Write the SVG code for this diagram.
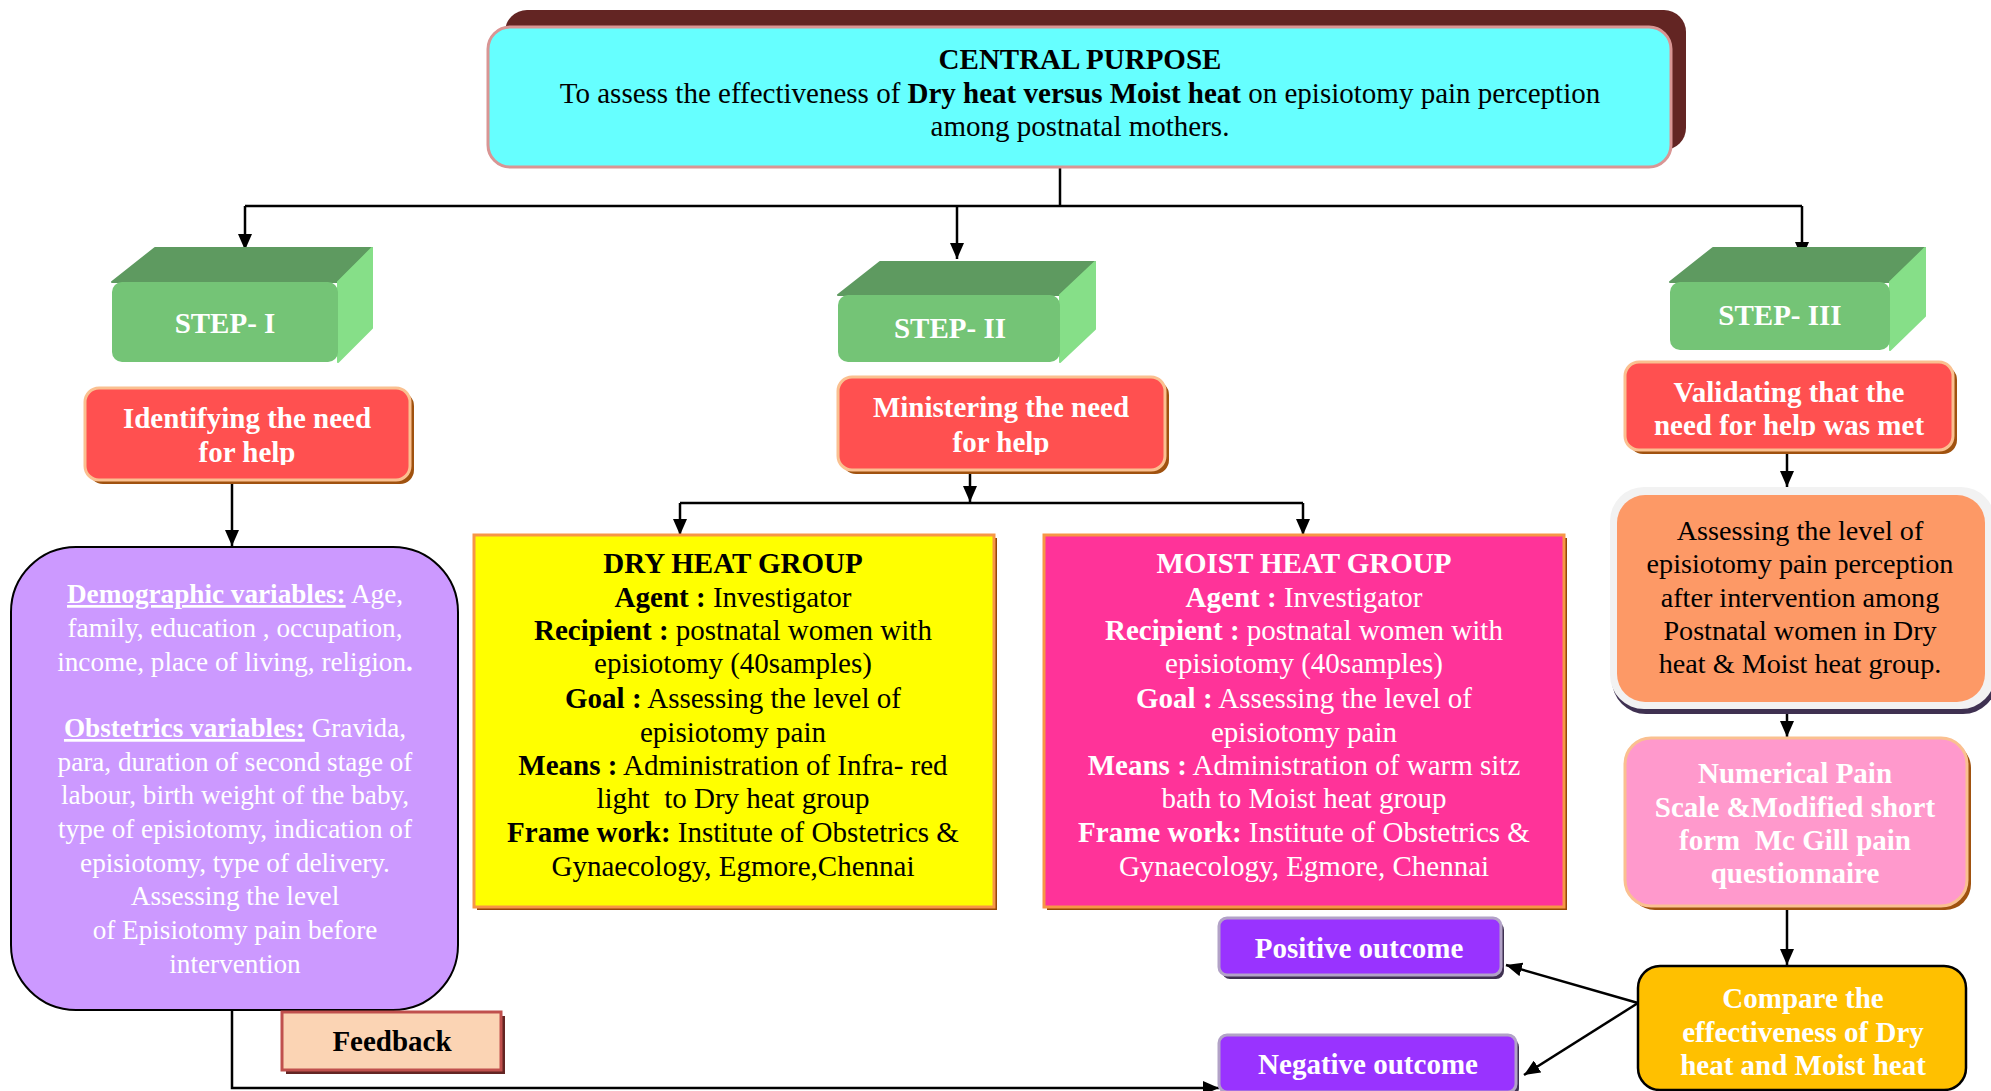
<svg xmlns="http://www.w3.org/2000/svg" width="1991" height="1091" viewBox="0 0 1991 1091">
<style>
text{font-family:"Liberation Serif","Times New Roman",serif;font-size:29px;text-anchor:middle}
text.pv{font-size:27.2px}
text.or{font-size:28.2px}
.b{font-weight:bold}
.w{fill:#fff}
.k{fill:#000}
.conn{stroke:#000;stroke-width:2.5;fill:none}
.sf{fill:#74C476}.st{fill:#5E9A60;stroke:#5E9A60;stroke-width:2;stroke-linejoin:round}.sr{fill:#86DF88;stroke:#86DF88;stroke-width:2;stroke-linejoin:round}
.red{fill:#FF5050;stroke:#FAC090;stroke-width:3}
.redsh{fill:#A0520F}
</style>
<defs>
<marker id="ah" viewBox="0 0 16 14" refX="16" refY="7" markerWidth="16" markerHeight="14" markerUnits="userSpaceOnUse" orient="auto">
<path d="M0,0 L16,7 L0,14 z" fill="#000"/>
</marker>
<clipPath id="c1"><rect x="85" y="388" width="325" height="77"/></clipPath>
<clipPath id="c2"><rect x="838" y="377" width="327" height="78"/></clipPath>
<clipPath id="c3"><rect x="1625" y="362" width="328" height="74"/></clipPath>
</defs>

<g id="connectors">
<path class="conn" d="M1060,167 V206"/>
<path class="conn" d="M245,206 H1802"/>
<path class="conn" d="M245,206 V250" marker-end="url(#ah)"/>
<path class="conn" d="M957,206 V259" marker-end="url(#ah)"/>
<path class="conn" d="M1802,206 V258" marker-end="url(#ah)"/>
<path class="conn" d="M232,481 V546" marker-end="url(#ah)"/>
<path class="conn" d="M970,470 V502" marker-end="url(#ah)"/>
<path class="conn" d="M680,503 H1303"/>
<path class="conn" d="M680,503 V535" marker-end="url(#ah)"/>
<path class="conn" d="M1303,503 V535" marker-end="url(#ah)"/>
<path class="conn" d="M1787,452 V487" marker-end="url(#ah)"/>
<path class="conn" d="M1787,705 V737" marker-end="url(#ah)"/>
<path class="conn" d="M1787,908 V965" marker-end="url(#ah)"/>
<path class="conn" d="M1638,1003 L1506,965" marker-end="url(#ah)"/>
<path class="conn" d="M1638,1003 L1524,1075" marker-end="url(#ah)"/>
<path class="conn" d="M232,1010 V1088 H1219" marker-end="url(#ah)"/>
</g>

<g id="central-purpose">
<rect x="505" y="10" width="1181" height="140" rx="22" fill="#632523"/>
<rect x="488" y="27" width="1183" height="140" rx="22" fill="#66FFFF" stroke="#D99594" stroke-width="3"/>
<text x="1080" y="69" class="b k">CENTRAL PURPOSE</text>
<text x="1080" y="103" class="k">To assess the effectiveness of <tspan class="b">Dry heat versus Moist heat</tspan> on episiotomy pain perception</text>
<text x="1080" y="136" class="k">among postnatal mothers.</text>
</g>

<g id="step1">
<polygon class="st" points="112,282 155,248 372,248 338,282"/>
<polygon class="sr" points="338,282 372,248 372,328 338,362"/>
<rect class="sf" x="112" y="282" width="226" height="80" rx="10"/>
<text x="225" y="333" class="b w">STEP- I</text>
</g>
<g id="step2">
<polygon class="st" points="838,295 880,262 1095,262 1060,295"/>
<polygon class="sr" points="1060,295 1095,262 1095,329 1060,362"/>
<rect class="sf" x="838" y="295" width="222" height="67" rx="10"/>
<text x="950" y="338" class="b w">STEP- II</text>
</g>
<g id="step3">
<polygon class="st" points="1670,282 1713,248 1925,248 1890,282"/>
<polygon class="sr" points="1890,282 1925,248 1925,316 1890,350"/>
<rect class="sf" x="1670" y="282" width="220" height="68" rx="10"/>
<text x="1780" y="325" class="b w">STEP- III</text>
</g>

<g id="identifying">
<rect class="redsh" x="89" y="392" width="325" height="92" rx="14"/>
<rect class="red" x="85" y="388" width="325" height="92" rx="14"/>
<g clip-path="url(#c1)">
<text x="247" y="428" class="b w">Identifying the need</text>
<text x="247" y="462" class="b w">for help</text>
</g>
</g>
<g id="ministering">
<rect class="redsh" x="842" y="381" width="327" height="93" rx="14"/>
<rect class="red" x="838" y="377" width="327" height="93" rx="14"/>
<g clip-path="url(#c2)">
<text x="1001" y="417" class="b w">Ministering the need</text>
<text x="1001" y="452" class="b w">for help</text>
</g>
</g>
<g id="validating">
<rect class="redsh" x="1629" y="366" width="328" height="88" rx="14"/>
<rect class="red" x="1625" y="362" width="328" height="88" rx="14"/>
<g clip-path="url(#c3)">
<text x="1789" y="402" class="b w">Validating that the</text>
<text x="1789" y="435" class="b w">need for help was met</text>
</g>
</g>

<g id="variables">
<rect x="11" y="547" width="447" height="463" rx="65" fill="#CC99FF" stroke="#000" stroke-width="2"/>
<text x="235" y="603" class="w pv"><tspan class="b" text-decoration="underline">Demographic variables:</tspan> Age,</text>
<text x="235" y="637" class="w pv">family, education , occupation,</text>
<text x="235" y="671" class="w pv">income, place of living, religion<tspan class="b">.</tspan></text>
<text x="235" y="737" class="w pv"><tspan class="b" text-decoration="underline">Obstetrics variables:</tspan> Gravida,</text>
<text x="235" y="771" class="w pv">para, duration of second stage of</text>
<text x="235" y="804" class="w pv">labour, birth weight of the baby,</text>
<text x="235" y="838" class="w pv">type of episiotomy, indication of</text>
<text x="235" y="872" class="w pv">episiotomy, type of delivery.</text>
<text x="235" y="905" class="w pv">Assessing the level</text>
<text x="235" y="939" class="w pv">of Episiotomy pain before</text>
<text x="235" y="973" class="w pv">intervention</text>
</g>

<g id="feedback">
<rect x="286" y="1016" width="219" height="58" fill="#632523"/>
<rect x="282" y="1012" width="219" height="58" fill="#FBD4B4" stroke="#C0504D" stroke-width="3"/>
<text x="392" y="1051" class="b k">Feedback</text>
</g>

<g id="dry-heat">
<rect x="477" y="538" width="520" height="372" fill="#974706"/>
<rect x="474" y="535" width="520" height="372" fill="#FFFF00" stroke="#F79646" stroke-width="3"/>
<text x="733" y="573" class="b k">DRY HEAT GROUP</text>
<text x="733" y="607" class="k"><tspan class="b">Agent :</tspan> Investigator</text>
<text x="733" y="640" class="k"><tspan class="b">Recipient :</tspan> postnatal women with</text>
<text x="733" y="673" class="k">episiotomy (40samples)</text>
<text x="733" y="708" class="k"><tspan class="b">Goal :</tspan> Assessing the level of</text>
<text x="733" y="742" class="k">episiotomy pain</text>
<text x="733" y="775" class="k"><tspan class="b">Means :</tspan> Administration of Infra- red</text>
<text x="733" y="808" class="k">light&#160; to Dry heat group</text>
<text x="733" y="842" class="k"><tspan class="b">Frame work:</tspan> Institute of Obstetrics &amp;</text>
<text x="733" y="876" class="k">Gynaecology, Egmore,Chennai</text>
</g>

<g id="moist-heat">
<rect x="1047" y="538" width="520" height="372" fill="#974706"/>
<rect x="1044" y="535" width="520" height="372" fill="#FF3399" stroke="#F79646" stroke-width="3"/>
<text x="1304" y="573" class="b w">MOIST HEAT GROUP</text>
<text x="1304" y="607" class="w"><tspan class="b">Agent :</tspan> Investigator</text>
<text x="1304" y="640" class="w"><tspan class="b">Recipient :</tspan> postnatal women with</text>
<text x="1304" y="673" class="w">episiotomy (40samples)</text>
<text x="1304" y="708" class="w"><tspan class="b">Goal :</tspan> Assessing the level of</text>
<text x="1304" y="742" class="w">episiotomy pain</text>
<text x="1304" y="775" class="w"><tspan class="b">Means :</tspan> Administration of warm sitz</text>
<text x="1304" y="808" class="w">bath to Moist heat group</text>
<text x="1304" y="842" class="w"><tspan class="b">Frame work:</tspan> Institute of Obstetrics &amp;</text>
<text x="1304" y="876" class="w">Gynaecology, Egmore, Chennai</text>
</g>

<g id="assessing-after">
<rect x="1612" y="492" width="385" height="222" rx="34" fill="#3F3151"/>
<rect x="1610" y="487" width="385" height="222" rx="34" fill="#F2F2F2"/>
<rect x="1617" y="495" width="368" height="207" rx="28" fill="#FD9966"/>
<text x="1800" y="540" class="k or">Assessing the level of</text>
<text x="1800" y="573" class="k or">episiotomy pain perception</text>
<text x="1800" y="607" class="k or">after intervention among</text>
<text x="1800" y="640" class="k or">Postnatal women in Dry</text>
<text x="1800" y="673" class="k or">heat &amp; Moist heat group.</text>
</g>

<g id="pain-scale">
<rect x="1629" y="742" width="342" height="168" rx="26" fill="#A0520F"/>
<rect x="1625" y="738" width="342" height="168" rx="26" fill="#FF99CC" stroke="#FAC090" stroke-width="3"/>
<text x="1795" y="783" class="b w">Numerical Pain</text>
<text x="1795" y="817" class="b w">Scale &amp;Modified short</text>
<text x="1795" y="850" class="b w">form&#160; Mc Gill pain</text>
<text x="1795" y="883" class="b w">questionnaire</text>
</g>

<g id="compare">
<rect x="1638" y="966" width="328" height="124" rx="22" fill="#FFC000" stroke="#000" stroke-width="2.5"/>
<text x="1803" y="1008" class="b w">Compare the</text>
<text x="1803" y="1042" class="b w">effectiveness of Dry</text>
<text x="1803" y="1075" class="b w">heat and Moist heat</text>
</g>

<g id="positive-outcome">
<rect x="1222" y="922" width="282" height="57" rx="8" fill="#3F3151"/>
<rect x="1219" y="918" width="282" height="57" rx="8" fill="#9933FF" stroke="#B2A2C7" stroke-width="3"/>
<text x="1359" y="958" class="b w">Positive outcome</text>
</g>
<g id="negative-outcome">
<rect x="1222" y="1039" width="297" height="57" rx="8" fill="#3F3151"/>
<rect x="1219" y="1035" width="297" height="57" rx="8" fill="#9933FF" stroke="#B2A2C7" stroke-width="3"/>
<text x="1368" y="1074" class="b w">Negative outcome</text>
</g>
</svg>
